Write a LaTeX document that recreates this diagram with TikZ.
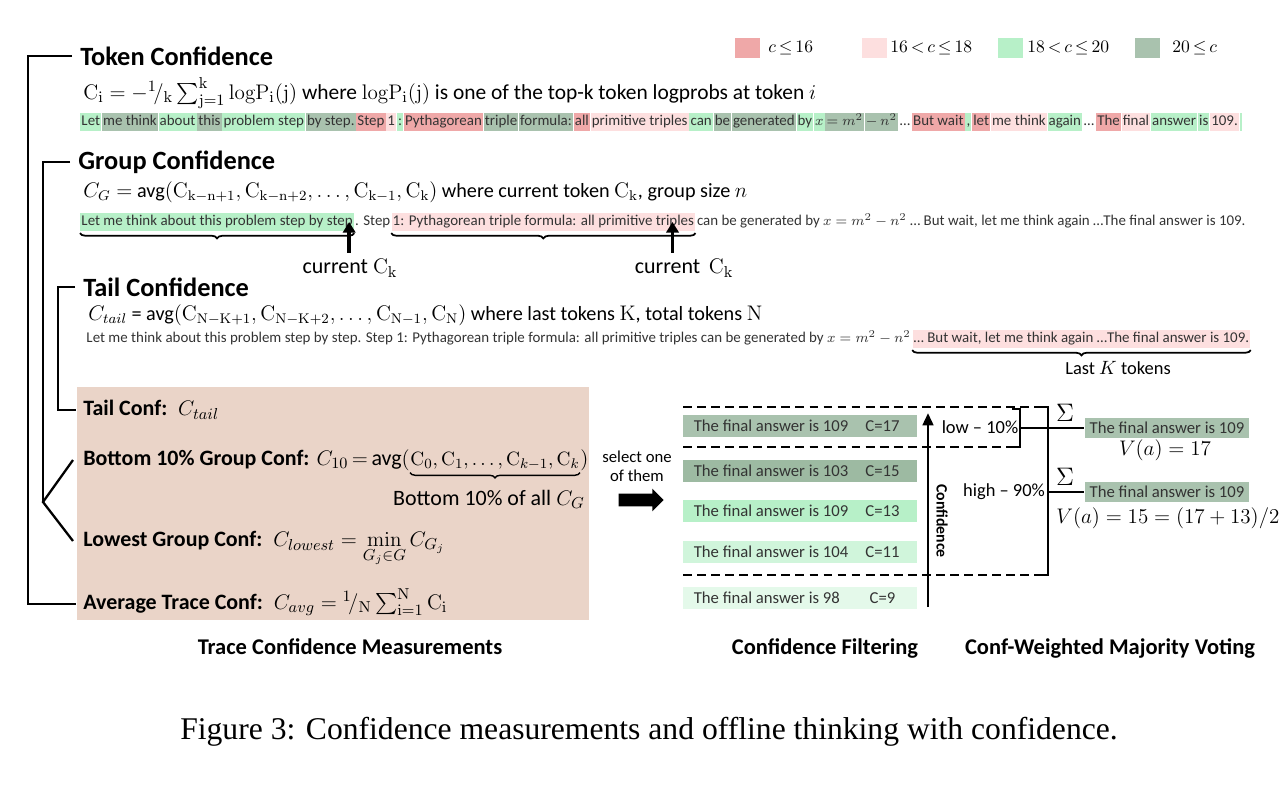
\documentclass[tikz,border=0pt]{standalone}
\usepackage[no-math]{fontspec}
\usepackage{amsmath}
\setmainfont{Carlito}
\newfontfamily\capfont{Liberation Serif}
\usetikzlibrary{positioning,decorations.pathreplacing,arrows.meta,shapes.arrows}

% token colours
\definecolor{tokred}{RGB}{239,168,168}
\definecolor{tokpink}{RGB}{253,223,223}
\definecolor{tokgreen}{RGB}{183,240,200}
\definecolor{tokgray}{RGB}{169,194,174}
\definecolor{rowdark}{RGB}{157,186,162}
\definecolor{rowlight}{RGB}{208,245,219}
\definecolor{rowpale}{RGB}{228,249,234}
\definecolor{measbg}{RGB}{234,212,200}

\tikzset{
  head/.style={anchor=west, inner sep=0pt, font=\fontsize{15}{17}\selectfont\bfseries},
  formula/.style={anchor=west, inner sep=0pt, font=\fontsize{11.5}{13}\selectfont},
  tok/.style={anchor=west, inner xsep=0.65pt, inner ysep=0pt, text height=6.4pt,
    text depth=2.2pt, minimum height=0.36cm, text=black!80,
    font=\fontsize{8.5}{10}\selectfont},
  brk/.style={line width=1.3pt},
  brc/.style={decorate, decoration={brace, mirror, amplitude=3pt}, line width=1pt},
  ptr/.style={line width=2pt, -{Triangle[length=6pt, width=7pt]}},
  meas/.style={anchor=west, inner sep=0pt, text height=9pt, text depth=3pt,
    font=\fontsize{12.5}{15}\selectfont},
  rowbox/.style={minimum width=4.7cm, minimum height=0.44cm, inner sep=0pt,
    text=black!80, font=\fontsize{9.5}{11}\selectfont},
  ansbox/.style={fill=tokgray, minimum width=3.3cm, minimum height=0.4cm,
    inner sep=0pt, text=black!80, font=\fontsize{9.5}{11}\selectfont},
  cut/.style={dash pattern=on 5pt off 3pt, line width=1pt},
  title/.style={font=\fontsize{12.8}{15}\selectfont\bfseries},
}

\begin{document}
\begin{tikzpicture}[x=0.02cm, y=-0.02cm]
  \useasboundingbox (0,0) rectangle (1285,799);

  % legend
  \foreach \sx/\lx/\c/\t [count=\i] in {735/768/tokred/$c \le 16$, 862/890/tokpink/$16 < c \le 18$,
      998/1027/tokgreen/$18 < c \le 20$, 1135/1172/tokgray/$20 \le c$} {
    \node[fill=\c, minimum width=0.5cm, minimum height=0.4cm, inner sep=0pt, anchor=west] (leg\i) at (\sx,48) {};
    \node[anchor=west, inner sep=0pt, font=\fontsize{9.8}{12}\selectfont] (legtxt\i) at (\lx,48) {\thickmuskip=3mu \t};
  }

  % token confidence
  \node[head] (tokhead) at (80,56) {Token Confidence};
  \node[formula, font=\fontsize{12.2}{14}\selectfont] (tokform) at (83,93) {$\mathrm{C_i} = -{}^{1}\!/_{\mathrm{k}} \sum_{\mathrm{j=1}}^{\mathrm{k}} \mathrm{logP_i(j)}$ where $\mathrm{logP_i(j)}$ is one of the top-k token logprobs at token $i$};
  \coordinate (t0) at (80,122);
  \foreach \c/\w [count=\i, remember=\i as \j (initially 0)] in {tokgreen/Let, tokgray/me think,
      tokgreen/about, tokgray/this, tokgreen/problem step, tokgray/by step., tokred/Step, tokpink/1,
      tokgreen/:, tokred/Pythagorean, tokgray/triple, tokgray/formula:, tokred/all,
      tokpink/primitive triples, tokgreen/can, tokgray/be, tokgray/generated, tokgreen/by,
      tokgreen/$x$, tokgray/$=m^2$, tokgray/$-$, tokgray/$n^2$, white/\ldots, tokred/But wait,
      tokgreen/{,}, tokred/let, tokpink/me think, tokgreen/again, white/\ldots, tokred/The,
      tokpink/final, tokgreen/answer, tokgreen/is, tokpink/109., tokgreen/{}} {
    \node[tok, fill=\c, right=0pt of t\j] (t\i) {\w};
  }

  % group confidence
  \node[head] (grphead) at (78,162) {Group Confidence};
  \node[formula] (grpform) at (83,192) {$C_G =$ avg$(\mathrm{C_{k-n+1}}, \mathrm{C_{k-n+2}}, \ldots, \mathrm{C_{k-1}}, \mathrm{C_k})$ where current token $\mathrm{C_k}$, group size $n$};
  \node[tok, fill=tokgreen] (g1) at (80,222) {Let me think about this problem step by step};
  \node[tok, inner xsep=0.3pt, right=0pt of g1] (g2) {. Step};
  \node[tok, fill=tokpink, right=0pt of g2] (g3) {1: Pythagorean triple formula: all primitive triples};
  \node[tok, right=0pt of g3] (g4) {can be generated by $x = m^2 - n^2$ \ldots\ But wait, let me think again \ldots The final answer is 109.};
  \draw[brc] ([yshift=-1pt]g1.south west) -- ([yshift=-1pt]g1.south east);
  \draw[brc] ([yshift=-1pt]g3.south west) -- ([yshift=-1pt]g3.south east);
  \node[font=\fontsize{12.5}{14}\selectfont] (cur1) at (350,268) {current $\mathrm{C_k}$};
  \node[font=\fontsize{12.5}{14}\selectfont] (cur2) at (684,268) {current\, $\mathrm{C_k}$};
  \coordinate (k1) at ([xshift=-0.1cm]g1.east);
  \coordinate (k2) at ([xshift=-0.46cm]g3.east);
  \draw[ptr] (cur1.north -| k1) -- (k1);
  \draw[ptr] (cur2.north -| k2) -- (k2);

  % tail confidence
  \node[head] (tailhead) at (83,287) {Tail Confidence};
  \node[formula] (tailform) at (88,315) {$C_{tail}$ = avg$(\mathrm{C_{N-K+1}}, \mathrm{C_{N-K+2}}, \ldots, \mathrm{C_{N-1}}, \mathrm{C_N})$ where last tokens $\mathrm{K}$, total tokens $\mathrm{N}$};
  \node[tok] (tl1) at (85,339) {Let me think about this problem step by step. Step 1: Pythagorean triple formula: all primitive triples can be generated by $x = m^2 - n^2$};
  \node[tok, fill=tokpink, right=0pt of tl1] (tl2) {\ldots\ But wait, let me think again \ldots The final answer is 109.};
  \draw[brc] ([yshift=-1pt]tl2.south west) -- ([yshift=-1pt]tl2.south east);
  \node[font=\fontsize{10.5}{12}\selectfont] (lastk) at (1118,368) {Last $K$ tokens};

  % trace confidence measurements
  \fill[measbg] (77,387) rectangle (589,620);
  \node[meas] (m1) at (83,410) {\textbf{Tail Conf:}\enspace$C_{tail}$};
  \node[meas] (m2) at (83,460) {\textbf{Bottom 10\% Group Conf:}\hspace{4pt}\thickmuskip=3mu $C_{10} = \text{avg}($};
  \node[meas, font=\fontsize{11.2}{14}\selectfont, right=0pt of m2] (m2a) {$\mathrm{C}_0, \mathrm{C}_1, \ldots, \mathrm{C}_{k-1}, \mathrm{C}_k$};
  \node[meas, right=0pt of m2a] (m2b) {$)$};
  \draw[brc, line width=0.8pt] ([yshift=-1pt]m2a.south west) -- ([yshift=-1pt]m2a.south east);
  \node[meas, anchor=east] (m2c) at (585,500) {Bottom 10\% of all $C_G$};
  \node[meas] (m3) at (83,541) {\textbf{Lowest Group Conf:}\enspace$C_{lowest} = \min\limits_{G_j\in G} C_{G_j}$};
  \node[meas] (m4) at (83,604) {\textbf{Average Trace Conf:}\enspace$C_{avg} = {}^{1}\!/_{\mathrm{N}} \sum_{\mathrm{i=1}}^{\mathrm{N}} \mathrm{C_i}$};

  % brackets on the left
  \coordinate (outer) at (28,300);
  \coordinate (gfork) at (43,502);
  \coordinate (tfork) at (58,350);
  \draw[brk] ([xshift=-0.16cm]tokhead.west) -| (outer) |- ([xshift=-0.14cm]m4.west);
  \draw[brk] ([xshift=-0.16cm]grphead.west) -| (gfork);
  \draw[brk] ([xshift=-0.2cm]m2.west) -- (gfork) -- ([xshift=-0.2cm]m3.west);
  \draw[brk] ([xshift=-0.16cm]tailhead.west) -| (tfork) |- ([xshift=-0.14cm]m1.west);

  % select one of them
  \node[align=center, font=\fontsize{9.5}{11}\selectfont] (sel) at (637,466) {select one\\of them};
  \node[single arrow, fill=black, inner xsep=0pt, inner ysep=0.12cm, minimum height=0.9cm,
    single arrow head extend=0.1cm] (selarrow) at (638,500) {};

  % confidence filtering
  \node[rowbox, fill=tokgray] (r17) at (800,426) {\makebox[3.3cm][l]{The final answer is 109}\makebox[0.95cm]{C=17}};
  \node[rowbox, fill=rowdark] (r15) at (800,471) {\makebox[3.3cm][l]{The final answer is 103}\makebox[0.95cm]{C=15}};
  \node[rowbox, fill=tokgreen] (r13) at (800,511) {\makebox[3.3cm][l]{The final answer is 109}\makebox[0.95cm]{C=13}};
  \node[rowbox, fill=rowlight] (r11) at (800,552) {\makebox[3.3cm][l]{The final answer is 104}\makebox[0.95cm]{C=11}};
  \node[rowbox, fill=rowpale] (r9) at (800,598) {\makebox[3.3cm][l]{The final answer is 98}\makebox[0.95cm]{C=9}};
  \draw[cut] (683,407) -- (1040,407);
  \draw[cut] (683,447) -- (1012,447);
  \draw[cut] (683,575) -- (1040,575);
  \coordinate (cbot) at (928,607);
  \coordinate (ctop) at (928,413);
  \draw[line width=1.6pt, -{Triangle[length=7pt, width=6pt]}] (cbot) -- (ctop);
  \node[rotate=-90, font=\fontsize{9}{11}\selectfont\bfseries] (conf) at (942,521) {Confidence};
  \node[font=\fontsize{10.5}{12}\selectfont] (lo) at (980,427) {low -- 10\%};
  \node[font=\fontsize{10.5}{12}\selectfont] (hi) at (1004,492) {high -- 90\%};

  % conf-weighted majority voting
  \node[ansbox] (a1) at (1167,428) {The final answer is 109};
  \node[ansbox] (a2) at (1167,492) {The final answer is 109};
  \node[font=\fontsize{12.5}{14}\selectfont] (v1) at (1165,450) {$V(a) = 17$};
  \node[font=\fontsize{12.5}{14}\selectfont] (v2) at (1168,518) {$V(a) = 15 = (17 + 13)/2$};
  \node[font=\fontsize{14}{16}\selectfont] (s1) at (1065,413) {$\Sigma$};
  \node[font=\fontsize{14}{16}\selectfont] (s2) at (1065,477) {$\Sigma$};
  \coordinate (lowbr) at (1020,428);
  \coordinate (highbr) at (1048,492);
  \draw[brk] (1012,409) -| (lowbr) |- (1012,447);
  \draw[brk] (1040,407) -| (highbr) |- (1040,575);
  \draw[brk] (lowbr) -- (a1.west);
  \draw[brk] (highbr) -- (a2.west);

  % titles
  \node[title] (ttrace) at (350,647) {Trace Confidence Measurements};
  \node[title] (tfilter) at (825,648) {Confidence Filtering};
  \node[title] (tvote) at (1110,648) {Conf-Weighted Majority Voting};
  \node[font=\capfont\fontsize{18}{21}\selectfont] (caption) at (649,732) {Figure 3: Confidence measurements and offline thinking with confidence.};
\end{tikzpicture}
\end{document}
